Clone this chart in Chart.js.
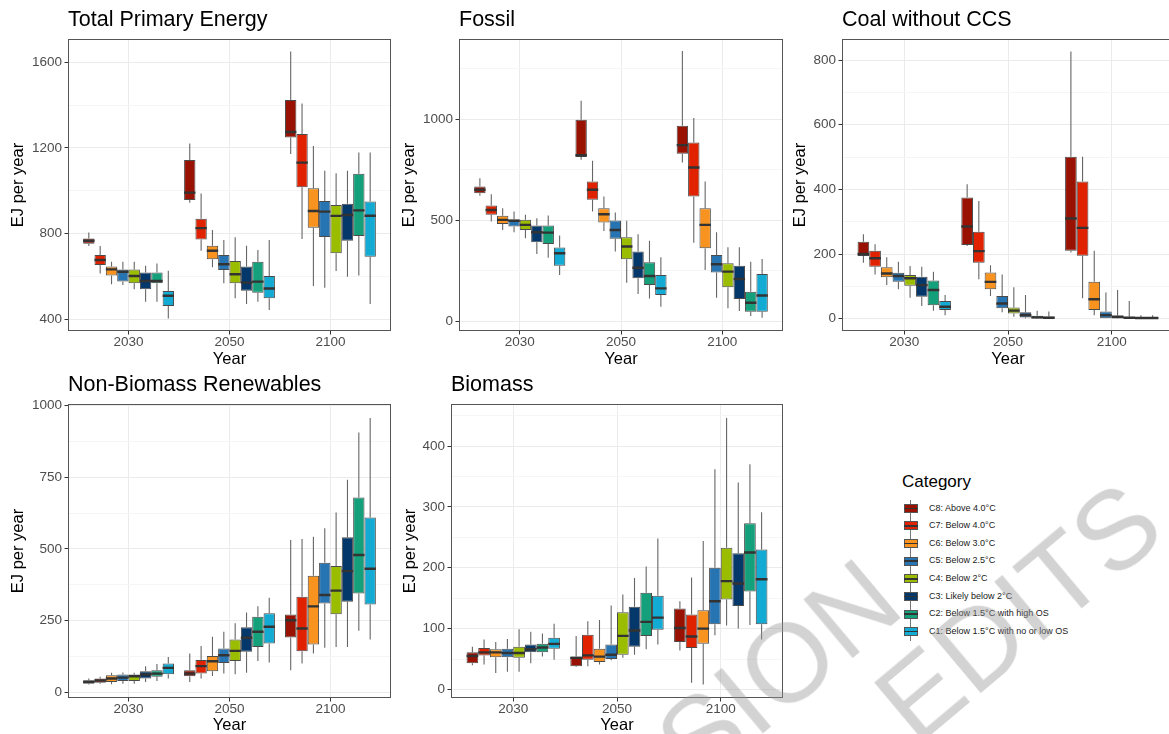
<!DOCTYPE html>
<html>
<head>
<meta charset="utf-8">
<script src="https://cdn.jsdelivr.net/npm/chart.js@4.4.1/dist/chart.umd.min.js"></script>
<style>
  html, body { margin: 0; padding: 0; background: #fff; overflow: hidden; width: 1169px; height: 734px;
    font-family: "Liberation Sans", Arial, sans-serif; }
  .panel { position: absolute; }
  #legend { position: absolute; left: 902px; top: 473px; width: 260px; height: 180px; }
  #legend .ttl { position: absolute; left: 0; top: 0; font-size: 17px; line-height: 17px; color: #000; }
  .row { position: absolute; left: 0; height: 17.6px; width: 250px; }
  .row .wh { position: absolute; left: 8px; top: 0; width: 1px; height: 17.6px; background: #777; }
  .row .bx { position: absolute; left: 1.5px; top: 4.3px; width: 14px; height: 9px; box-sizing: border-box; border: 1px solid #555; }
  .row .md { position: absolute; left: 1.5px; top: 8.1px; width: 14px; height: 1.4px; background: #333; }
  .row .lb { position: absolute; left: 27px; top: 0; line-height: 17.6px; font-size: 9px; color: #1a1a1a; white-space: nowrap; }
  .wm { position: absolute; font-size: 112px; line-height: 112px; white-space: nowrap; color: rgba(150,150,150,0.42);
    transform-origin: 0 0; transform: rotate(-40deg); pointer-events: none; z-index: 5; }
  .wm .pre { position: absolute; right: 100%; top: 0; }
</style>
</head>
<body>
<div class="panel" id="p0"><canvas id="c0"></canvas></div>
<div class="panel" id="p1"><canvas id="c1"></canvas></div>
<div class="panel" id="p2"><canvas id="c2"></canvas></div>
<div class="panel" id="p3"><canvas id="c3"></canvas></div>
<div class="panel" id="p4"><canvas id="c4"></canvas></div>
<div id="legend"><div class="ttl">Category</div></div>
<div class="wm" style="left:461px;top:864px"><span class="pre">ACCEPTED&nbsp;</span>VERSION</div>
<div class="wm" style="left:856px;top:675px"><span class="pre">SUBJECT TO FINAL&nbsp;</span>EDITS</div>
<script>
// categories, C8 first (leftmost box in each group)
const years = ['2030', '2050', '2100'];
const categories = [
  'C8: Above 4.0°C',
  'C7: Below 4.0°C',
  'C6: Below 3.0°C',
  'C5: Below 2.5°C',
  'C4: Below 2°C',
  'C3: Likely below 2°C',
  'C2: Below 1.5°C with high OS',
  'C1: Below 1.5°C with no or low OS'
];

// per category, per year: [lower whisker, q1, median, q3, upper whisker] in EJ/yr
const totalPrimary = [
  [[741, 752, 766, 776, 804], [944, 956, 991, 1143, 1221], [1171, 1248, 1274, 1424, 1650]],
  [[613, 652, 676, 699, 741], [719, 772, 825, 869, 987], [774, 1016, 1131, 1265, 1408]],
  [[562, 604, 632, 645, 668], [642, 679, 719, 743, 816], [554, 827, 905, 1011, 1209]],
  [[559, 575, 621, 632, 668], [567, 629, 656, 699, 769], [546, 783, 902, 952, 1093]],
  [[539, 567, 601, 632, 668], [497, 567, 609, 671, 782], [625, 707, 882, 933, 1081]],
  [[481, 539, 578, 617, 649], [470, 532, 570, 645, 743], [598, 766, 886, 939, 1093]],
  [[481, 567, 578, 617, 660], [481, 523, 575, 668, 723], [603, 788, 908, 1079, 1179]],
  [[403, 461, 509, 531, 626], [442, 497, 543, 601, 769], [470, 691, 883, 949, 1179]]
];
const fossil = [
  [[620, 633, 650, 666, 707], [798, 812, 821, 997, 1091], [785, 828, 871, 967, 1336]],
  [[493, 526, 550, 572, 628], [542, 600, 650, 691, 793], [388, 617, 760, 884, 1005]],
  [[451, 481, 501, 521, 559], [446, 488, 529, 559, 617], [253, 360, 476, 559, 691]],
  [[440, 468, 496, 504, 542], [344, 407, 451, 498, 537], [116, 241, 281, 327, 440]],
  [[410, 451, 476, 501, 526], [190, 306, 369, 415, 496], [63, 167, 245, 286, 365]],
  [[332, 390, 440, 473, 509], [134, 212, 264, 344, 430], [50, 109, 208, 274, 365]],
  [[314, 382, 438, 473, 522], [112, 179, 223, 291, 397], [25, 46, 91, 145, 294]],
  [[228, 274, 336, 364, 423], [71, 129, 162, 228, 316], [17, 46, 127, 233, 307]]
];
const coal = [
  [[173, 194, 200, 238, 261], [225, 228, 285, 375, 416], [205, 210, 310, 501, 826]],
  [[137, 161, 187, 210, 230], [122, 173, 209, 269, 364], [63, 195, 281, 424, 501]],
  [[104, 128, 140, 159, 190], [70, 91, 114, 143, 165], [11, 27, 60, 114, 210]],
  [[91, 114, 132, 142, 176], [20, 32, 47, 70, 137], [0, 0, 11, 22, 81]],
  [[65, 102, 125, 135, 163], [6, 16, 25, 35, 97], [0, 1, 6, 9, 89]],
  [[39, 68, 104, 130, 161], [1, 4, 11, 20, 73], [0, 0, 3, 6, 55]],
  [[25, 42, 89, 118, 145], [0, 1, 4, 9, 25], [0, 0, 2, 4, 11]],
  [[11, 27, 37, 55, 73], [0, 1, 3, 7, 22], [0, 0, 2, 4, 11]]
];
const renewables = [
  [[28, 31, 37, 43, 49], [37, 57, 66, 78, 136], [78, 192, 252, 272, 531]],
  [[31, 34, 42, 49, 55], [49, 66, 92, 113, 162], [101, 144, 223, 334, 535]],
  [[29, 37, 49, 60, 69], [58, 74, 109, 127, 194], [136, 167, 300, 407, 543]],
  [[31, 40, 52, 63, 70], [66, 103, 130, 153, 212], [156, 310, 340, 452, 572]],
  [[31, 40, 57, 63, 69], [64, 110, 145, 185, 241], [159, 273, 355, 441, 627]],
  [[37, 49, 63, 74, 92], [69, 142, 191, 227, 279], [159, 316, 423, 541, 741]],
  [[40, 55, 66, 78, 99], [110, 159, 212, 264, 301], [215, 345, 479, 679, 906]],
  [[49, 64, 86, 101, 124], [105, 171, 229, 276, 330], [185, 307, 431, 610, 956]]
];
const biomass = [
  [[40, 43, 55, 61, 70], [37, 38, 52, 54, 88], [64, 78, 101, 133, 145]],
  [[41, 56, 61, 68, 82], [38, 49, 56, 90, 112], [11, 68, 87, 123, 184]],
  [[27, 53, 61, 66, 78], [41, 45, 54, 67, 114], [8, 75, 100, 130, 244]],
  [[29, 53, 60, 67, 83], [48, 50, 57, 74, 138], [89, 107, 145, 200, 362]],
  [[29, 52, 60, 70, 99], [52, 57, 88, 127, 156], [105, 148, 178, 233, 446]],
  [[43, 61, 66, 74, 95], [57, 70, 97, 136, 183], [100, 137, 174, 224, 340]],
  [[54, 61, 69, 75, 92], [66, 88, 111, 159, 202], [106, 161, 225, 273, 370]],
  [[49, 67, 75, 85, 108], [74, 98, 118, 154, 248], [82, 107, 181, 230, 291]]
];

// y tick labels per panel
const tpeTicks = [400, 800, 1200, 1600];
const fossilTicks = [0, 500, 1000];
const coalTicks = [0, 200, 400, 600, 800];
const renewTicks = [0, 250, 500, 750, 1000];
const biomassTicks = [0, 100, 200, 300, 400];

const colors = ['#991100', '#e02200', '#f7931e', '#2674b2', '#9bbd00', '#04386b', '#13a07b', '#13aad4'];

// panel placement: canvas box, y-axis width, x-axis height
const panels = [
  { title: 'Total Primary Energy', rows: totalPrimary, ticks: tpeTicks, min: 344, max: 1709,
    left: 9, top: 0, width: 382, height: 369, yw: 59, xh: 38 },
  { title: 'Fossil', rows: fossil, ticks: fossilTicks, min: -49, max: 1396,
    left: 400, top: 0, width: 383, height: 369, yw: 59, xh: 38 },
  { title: 'Coal without CCS', rows: coal, ticks: coalTicks, min: -38, max: 865,
    left: 791, top: 0, width: 383, height: 369, yw: 51, xh: 38 },
  { title: 'Non-Biomass Renewables', rows: renewables, ticks: renewTicks, min: -19, max: 1005,
    left: 9, top: 365, width: 382, height: 370, yw: 59, xh: 37 },
  { title: 'Biomass', rows: biomass, ticks: biomassTicks, min: -14, max: 469,
    left: 401, top: 365, width: 382, height: 370, yw: 50, xh: 37 }
];

Chart.defaults.font.family = '"Liberation Sans", Arial, sans-serif';

// whiskers behind the boxes, medians and panel border on top
const boxPlot = {
  id: 'boxPlot',
  beforeDatasetsDraw(chart) {
    const ctx = chart.ctx, y = chart.scales.y, a = chart.chartArea;
    ctx.save();
    ctx.beginPath();
    ctx.rect(a.left, a.top, a.right - a.left, a.bottom - a.top);
    ctx.clip();
    ctx.strokeStyle = '#666';
    ctx.lineWidth = 1.1;
    ctx.beginPath();
    chart.data.datasets.forEach((ds, i) => {
      chart.getDatasetMeta(i).data.forEach((bar, j) => {
        const s = ds.stats[j];
        ctx.moveTo(bar.x, y.getPixelForValue(s[0]));
        ctx.lineTo(bar.x, y.getPixelForValue(s[1]));
        ctx.moveTo(bar.x, y.getPixelForValue(s[3]));
        ctx.lineTo(bar.x, y.getPixelForValue(s[4]));
      });
    });
    ctx.stroke();
    ctx.restore();
  },
  afterDatasetsDraw(chart) {
    const ctx = chart.ctx, y = chart.scales.y, a = chart.chartArea;
    ctx.save();
    ctx.strokeStyle = '#333';
    ctx.lineWidth = 2.4;
    ctx.beginPath();
    chart.data.datasets.forEach((ds, i) => {
      chart.getDatasetMeta(i).data.forEach((bar, j) => {
        const py = y.getPixelForValue(ds.stats[j][2]);
        ctx.moveTo(bar.x - bar.width / 2, py);
        ctx.lineTo(bar.x + bar.width / 2, py);
      });
    });
    ctx.stroke();
    ctx.strokeStyle = '#555';
    ctx.lineWidth = 1;
    ctx.strokeRect(a.left + 0.5, a.top + 0.5, a.right - a.left - 1, a.bottom - a.top - 1);
    ctx.restore();
  }
};

panels.forEach((p, k) => {
  const box = document.getElementById('p' + k);
  box.style.left = p.left + 'px';
  box.style.top = p.top + 'px';
  box.style.width = p.width + 'px';
  box.style.height = p.height + 'px';

  // minor grid lines halfway between labelled ticks (ggplot theme_bw)
  const half = (p.ticks[1] - p.ticks[0]) / 2;
  const lines = [];
  p.ticks.forEach(v => { lines.push(v - half, v); });
  lines.push(p.ticks[p.ticks.length - 1] + half);
  const gridValues = lines.filter(v => v >= p.min && v <= p.max);
  const isMajor = v => p.ticks.includes(v);

  new Chart(document.getElementById('c' + k), {
    type: 'bar',
    data: {
      datasets: categories.map((c, i) => ({
        label: c,
        data: p.rows[i].map((s, j) => ({ x: j + 1, y: [s[1], s[3]] })),
        stats: p.rows[i],
        backgroundColor: colors[i],
        borderColor: '#4a4a4a',
        borderWidth: 1,
        borderSkipped: false,
        categoryPercentage: 0.9,
        barPercentage: 1
      }))
    },
    options: {
      responsive: true,
      maintainAspectRatio: false,
      animation: false,
      layout: { padding: 0 },
      plugins: {
        legend: { display: false },
        tooltip: { enabled: false },
        title: {
          display: true, text: p.title, align: 'start', fullSize: false,
          color: '#000', font: { size: 21.5, weight: 'normal' },
          padding: { top: 7, bottom: 6.2 }
        }
      },
      scales: {
        x: {
          type: 'linear', min: 0.4, max: 3.6, offset: false,
          afterBuildTicks: s => { s.ticks = years.map((_, i) => ({ value: i + 1 })); },
          afterFit: s => { s.height = p.xh; },
          ticks: {
            callback: v => years[Math.round(v) - 1],
            color: '#4d4d4d', font: { size: 13.5 }, padding: 0, maxRotation: 0, autoSkip: false
          },
          grid: { color: '#ebebeb', offset: false, tickLength: 3.5, tickColor: '#333' },
          border: { display: false },
          title: { display: true, text: 'Year', color: '#000', font: { size: 16.5 }, padding: 0 }
        },
        y: {
          min: p.min, max: p.max, beginAtZero: false,
          afterBuildTicks: s => { s.ticks = gridValues.map(v => ({ value: v })); },
          afterFit: s => { s.width = p.yw; },
          ticks: {
            autoSkip: false,
            callback: v => (isMajor(v) ? String(v) : ''),
            color: '#4d4d4d', font: { size: 13.5 }, padding: 2.5
          },
          grid: {
            color: c => (c.tick && isMajor(c.tick.value) ? '#ebebeb' : '#f5f5f5'),
            tickColor: c => (c.tick && isMajor(c.tick.value) ? '#333' : 'rgba(0,0,0,0)'),
            tickLength: 3.5
          },
          border: { display: false },
          title: { display: true, text: 'EJ per year', color: '#000', font: { size: 16.5 }, padding: 0 }
        }
      }
    },
    plugins: [boxPlot]
  });
});

// legend
const legend = document.getElementById('legend');
categories.forEach((c, i) => {
  const row = document.createElement('div');
  row.className = 'row';
  row.style.top = (35.3 - 8.8 + i * 17.63) + 'px';
  row.innerHTML = '<div class="wh"></div><div class="bx" style="background:' + colors[i] + '"></div>' +
    '<div class="md"></div><div class="lb">' + c + '</div>';
  legend.appendChild(row);
});
</script>
</body>
</html>
